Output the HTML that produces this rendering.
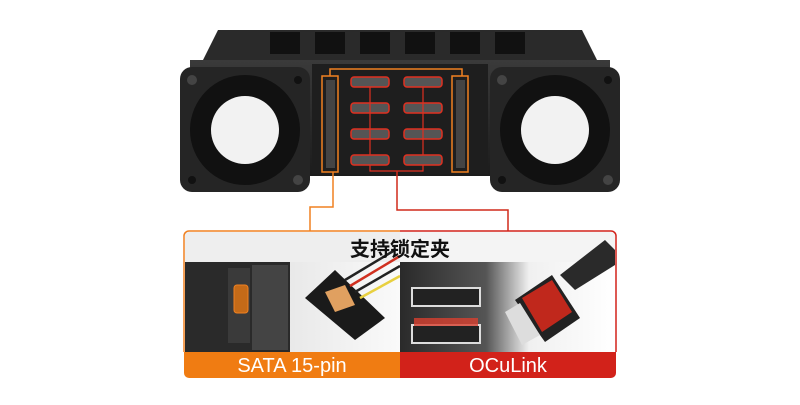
<!DOCTYPE html>
<html><head><meta charset="utf-8"><style>
body{margin:0;width:800px;height:400px;background:#fff;overflow:hidden;font-family:"Liberation Sans","Noto Sans CJK SC",sans-serif}
</style></head><body>
<svg width="800" height="400" viewBox="0 0 800 400">
<defs>
<linearGradient id="ch" x1="0" y1="0" x2="0" y2="1"><stop offset="0" stop-color="#3a3a3a"/><stop offset="1" stop-color="#1c1c1c"/></linearGradient>
<linearGradient id="lg" x1="0" y1="0" x2="1" y2="0"><stop offset="0" stop-color="#d8d8d8"/><stop offset="1" stop-color="#fafafa"/></linearGradient>
<linearGradient id="rg" x1="0" y1="0" x2="1" y2="0"><stop offset="0" stop-color="#2a2a2a"/><stop offset="0.4" stop-color="#555"/><stop offset="0.6" stop-color="#f0f0f0"/><stop offset="1" stop-color="#fff"/></linearGradient>
</defs>
<polygon points="218,30 582,30 598,62 202,62" fill="#2a2a2a"/>
<g fill="#111"><rect x="270" y="32" width="30" height="22"/><rect x="315" y="32" width="30" height="22"/><rect x="360" y="32" width="30" height="22"/><rect x="405" y="32" width="30" height="22"/><rect x="450" y="32" width="30" height="22"/><rect x="495" y="32" width="30" height="22"/></g>
<rect x="190" y="60" width="420" height="116" fill="url(#ch)"/>
<g>
<rect x="180" y="67" width="130" height="125" rx="12" fill="#252525"/>
<circle cx="245" cy="130" r="55" fill="#111"/>
<circle cx="245" cy="130" r="34" fill="#f2f2f2"/>
<circle cx="192" cy="80" r="5" fill="#444"/><circle cx="298" cy="180" r="5" fill="#444"/>
<circle cx="192" cy="180" r="4" fill="#111"/><circle cx="298" cy="80" r="4" fill="#111"/>
</g>
<g>
<rect x="490" y="67" width="130" height="125" rx="12" fill="#252525"/>
<circle cx="555" cy="130" r="55" fill="#111"/>
<circle cx="555" cy="130" r="34" fill="#f2f2f2"/>
<circle cx="502" cy="80" r="5" fill="#444"/><circle cx="608" cy="180" r="5" fill="#444"/>
<circle cx="502" cy="180" r="4" fill="#111"/><circle cx="608" cy="80" r="4" fill="#111"/>
</g>
<rect x="312" y="64" width="176" height="110" fill="#1e1e1e"/>
<g fill="none" stroke="#f08020" stroke-width="1.5">
<rect x="322" y="76" width="16" height="96"/><rect x="452" y="76" width="16" height="96"/>
<polyline points="330,76 330,69 462,69 462,76"/>
</g>
<rect x="326" y="80" width="9" height="88" fill="#444"/><rect x="456" y="80" width="9" height="88" fill="#444"/>
<g fill="#555" stroke="#e03020" stroke-width="1.5">
<rect x="351" y="77" width="38" height="10" rx="3"/><rect x="404" y="77" width="38" height="10" rx="3"/>
<rect x="351" y="103" width="38" height="10" rx="3"/><rect x="404" y="103" width="38" height="10" rx="3"/>
<rect x="351" y="129" width="38" height="10" rx="3"/><rect x="404" y="129" width="38" height="10" rx="3"/>
<rect x="351" y="155" width="38" height="10" rx="3"/><rect x="404" y="155" width="38" height="10" rx="3"/>
</g>
<g fill="none" stroke="#e03020" stroke-width="1.2">
<line x1="370" y1="87" x2="370" y2="155"/><line x1="423" y1="87" x2="423" y2="155"/>
<polyline points="370,165 370,171 423,171 423,165"/>
</g>
<polyline points="333,172 333,207 310,207 310,231" fill="none" stroke="#f08020" stroke-width="1.5"/>
<polyline points="397,171 397,210 508,210 508,231" fill="none" stroke="#d02a1a" stroke-width="1.5"/>
<rect x="184" y="231" width="432" height="147" rx="5" fill="#fff"/>
<rect x="185" y="262" width="215" height="90" fill="url(#lg)"/>
<rect x="185" y="232" width="215" height="30" fill="#eee"/>
<rect x="185" y="262" width="105" height="90" fill="#2a2a2a"/>
<rect x="228" y="268" width="22" height="75" fill="#3a3a3a"/>
<rect x="234" y="285" width="14" height="28" rx="3" fill="#c46a18" stroke="#f08020"/>
<rect x="252" y="265" width="36" height="85" fill="#444"/>
<polygon points="305,298 335,270 385,318 355,340" fill="#1a1a1a"/>
<polygon points="325,292 345,285 355,305 335,312" fill="#e0a060"/>
<g stroke-width="2.5"><line x1="345" y1="280" x2="395" y2="250" stroke="#222"/><line x1="350" y1="286" x2="400" y2="256" stroke="#d03020"/><line x1="355" y1="292" x2="400" y2="266" stroke="#222"/><line x1="360" y1="298" x2="400" y2="276" stroke="#e8d040"/></g>
<rect x="400" y="262" width="215" height="90" fill="url(#rg)"/>
<rect x="400" y="232" width="215" height="30" fill="#f4f4f4"/>
<rect x="412" y="288" width="68" height="18" fill="#222" stroke="#ddd" stroke-width="2"/>
<rect x="412" y="325" width="68" height="18" fill="#222" stroke="#ddd" stroke-width="2"/>
<rect x="414" y="318" width="64" height="8" fill="#d84030" opacity="0.8"/>
<polygon points="560,275 605,240 615,250 615,265 575,290" fill="#2a2a2a"/>
<polygon points="515,300 552,275 580,318 545,342" fill="#222"/>
<polygon points="522,298 552,280 572,312 542,332" fill="#c0281c"/>
<polygon points="505,312 520,303 540,335 522,345" fill="#ddd"/>
<text x="400" y="256" text-anchor="middle" font-size="20" font-weight="bold" fill="#111" font-family="'Liberation Sans','Noto Sans CJK SC',sans-serif">支持锁定夹</text>
<path d="M184,352 H400 V378 H189 a5,5 0 0 1 -5,-5 Z" fill="#f07c12"/>
<path d="M400,352 H616 V373 a5,5 0 0 1 -5,5 H400 Z" fill="#d2221a"/>
<text x="292" y="372" text-anchor="middle" font-size="20" fill="#fff" font-family="'Liberation Sans',sans-serif">SATA 15-pin</text>
<text x="508" y="372" text-anchor="middle" font-size="20" fill="#fff" font-family="'Liberation Sans',sans-serif">OCuLink</text>
<path d="M184,352 V236 a5,5 0 0 1 5,-5 H400" fill="none" stroke="#f08020" stroke-width="1.5"/>
<path d="M400,231 H611 a5,5 0 0 1 5,5 V352" fill="none" stroke="#d2221a" stroke-width="1.5"/>
</svg>
</body></html>
